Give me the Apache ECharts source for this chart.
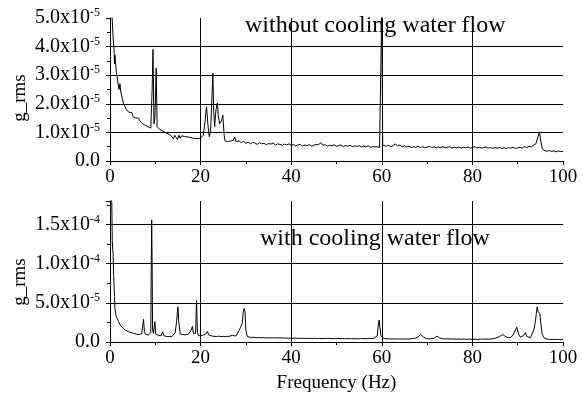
<!DOCTYPE html>
<html>
<head>
<meta charset="utf-8">
<script src="https://cdn.jsdelivr.net/npm/echarts@6/dist/echarts.min.js"></script>
<style>
  html, body { margin: 0; padding: 0; background: #fff; }
  #chart { width: 583px; height: 400px; }
</style>
</head>
<body>
<div id="chart"></div>
<script>
// 频谱数据，单位 1e-5 g_rms
const topFreq = [
  0.2, 0.4, 0.7, 0.9, 1.0, 1.1, 1.2, 1.4, 1.7, 2.0, 2.2, 2.4, 2.7, 3.0, 3.3, 3.6, 3.9, 4.2, 4.5, 4.8,
  5.1, 5.4, 5.7, 6.0, 6.3, 6.6, 6.9, 7.2, 7.5, 7.8, 8.1, 8.4, 8.7, 9.0, 9.3, 9.5, 9.7, 9.9, 10.2, 10.4,
  10.7, 11.0, 11.3, 11.6, 11.9, 12.2, 12.5, 12.8, 13.1, 13.4, 13.7, 14.0, 14.3, 14.6, 14.9, 15.2, 15.5, 15.8, 16.1, 16.4,
  16.7, 17.0, 17.3, 17.6, 17.9, 18.2, 18.5, 18.8, 19.1, 19.4, 19.7, 20.0, 20.3, 20.6, 21.0, 21.3, 21.6, 21.9, 22.2, 22.5,
  22.7, 22.9, 23.1, 23.4, 23.7, 23.9, 24.2, 24.6, 24.9, 25.2, 25.4, 25.7, 26.0, 26.3, 26.6, 26.9, 27.2, 27.5, 27.8, 28.1,
  28.5, 29.0, 29.5, 30.0, 30.5, 31.0, 31.5, 32.0, 32.5, 33.0, 33.5, 34.0, 34.5, 35.0, 35.5, 36.0, 36.5, 37.0, 37.5, 38.0,
  38.5, 39.0, 39.5, 40.0, 40.5, 41.0, 41.5, 42.0, 42.5, 43.0, 43.5, 44.0, 44.5, 45.0, 45.5, 46.0, 46.5, 47.0, 47.5, 48.0,
  48.5, 49.0, 49.5, 50.0, 50.5, 51.0, 51.5, 52.0, 52.5, 53.0, 53.5, 54.0, 54.5, 55.0, 55.5, 56.0, 56.5, 57.0, 57.5, 58.0,
  58.5, 59.0, 59.5, 59.8, 60.0, 60.2, 60.5, 61.0, 61.5, 62.0, 62.5, 63.0, 63.5, 64.0, 64.5, 65.0, 65.5, 66.0, 66.5, 67.0,
  67.5, 68.0, 68.5, 69.0, 69.5, 70.0, 70.5, 71.0, 71.5, 72.0, 72.5, 73.0, 73.5, 74.0, 74.5, 75.0, 75.5, 76.0, 76.5, 77.0,
  77.5, 78.0, 78.5, 79.0, 79.5, 80.0, 80.5, 81.0, 81.5, 82.0, 82.5, 83.0, 83.5, 84.0, 84.5, 85.0, 85.5, 86.0, 86.5, 87.0,
  87.5, 88.0, 88.5, 89.0, 89.5, 90.0, 90.5, 91.0, 91.5, 92.0, 92.5, 93.0, 93.5, 94.0, 94.5, 94.8, 95.1, 95.4, 95.7, 96.0,
  96.5, 97.0, 97.5, 98.0, 98.5, 99.0, 99.5, 100.0
]
const topVal = [
  6.0, 5.2, 4.3, 3.9, 3.4, 3.7, 3.5, 3.1, 2.8, 2.5, 2.7, 2.4, 2.2, 2.0, 1.9, 1.8, 1.85, 1.7, 1.65, 1.7,
  1.55, 1.6, 1.5, 1.45, 1.5, 1.4, 1.45, 1.3, 1.35, 1.25, 1.3, 1.2, 1.25, 1.15, 2.5, 3.9, 1.3, 1.5, 3.25, 1.2,
  1.15, 1.1, 1.15, 1.05, 1.1, 1.0, 1.05, 0.95, 1.0, 0.9, 0.95, 0.78, 0.9, 0.85, 0.75, 0.9, 0.8, 0.88, 0.82, 0.86,
  0.8, 0.84, 0.79, 0.83, 0.77, 0.8, 0.76, 0.79, 0.74, 0.78, 0.73, 0.8, 0.76, 0.9, 1.4, 1.9, 1.3, 0.85, 1.0, 2.2,
  3.07, 1.7, 1.2, 1.8, 2.03, 1.6, 1.3, 1.4, 1.6, 0.9, 0.7, 0.75, 0.68, 0.72, 0.7, 0.65, 0.72, 0.84, 0.68, 0.66,
  0.7, 0.64, 0.69, 0.62, 0.66, 0.6, 0.65, 0.63, 0.58, 0.64, 0.6, 0.62, 0.57, 0.61, 0.59, 0.63, 0.56, 0.6, 0.58, 0.55,
  0.59, 0.56, 0.6, 0.55, 0.57, 0.53, 0.56, 0.58, 0.52, 0.56, 0.54, 0.57, 0.52, 0.55, 0.58, 0.56, 0.64, 0.55, 0.57, 0.52,
  0.55, 0.53, 0.57, 0.51, 0.54, 0.56, 0.5, 0.54, 0.52, 0.55, 0.5, 0.53, 0.51, 0.54, 0.49, 0.52, 0.5, 0.53, 0.48, 0.51,
  0.49, 0.5, 0.47, 0.5, 5.3, 0.55, 0.6, 0.52, 0.55, 0.5, 0.54, 0.6, 0.52, 0.56, 0.5, 0.53, 0.49, 0.52, 0.47, 0.5,
  0.48, 0.52, 0.47, 0.5, 0.46, 0.49, 0.51, 0.47, 0.5, 0.46, 0.49, 0.47, 0.5, 0.46, 0.48, 0.5, 0.45, 0.48, 0.46, 0.49,
  0.45, 0.48, 0.46, 0.49, 0.45, 0.47, 0.5, 0.46, 0.48, 0.45, 0.47, 0.49, 0.45, 0.47, 0.44, 0.47, 0.45, 0.48, 0.44, 0.46,
  0.44, 0.47, 0.45, 0.48, 0.44, 0.46, 0.48, 0.45, 0.5, 0.47, 0.52, 0.49, 0.55, 0.6, 0.85, 1.02, 0.7, 0.45, 0.38, 0.36,
  0.34, 0.37, 0.33, 0.36, 0.32, 0.35, 0.33, 0.34
]

const botFreq = [
  0.2, 0.4, 0.5, 0.6, 0.7, 0.8, 1.0, 1.1, 1.3, 1.6, 1.9, 2.2, 2.5, 2.8, 3.1, 3.4, 3.7, 4.0, 4.3, 4.6,
  4.9, 5.2, 5.5, 5.8, 6.1, 6.4, 6.7, 7.0, 7.2, 7.4, 7.6, 7.9, 8.2, 8.5, 8.8, 9.0, 9.1, 9.2, 9.3, 9.4,
  9.6, 9.9, 10.1, 10.4, 10.7, 11.0, 11.3, 11.6, 11.9, 12.2, 12.5, 12.8, 13.1, 13.4, 13.7, 14.0, 14.4, 14.7, 15.0, 15.2,
  15.5, 15.8, 16.1, 16.4, 16.7, 17.0, 17.3, 17.6, 17.9, 18.2, 18.4, 18.7, 18.9, 19.1, 19.3, 19.6, 20.0, 20.4, 20.8, 21.1,
  21.5, 21.8, 22.2, 22.6, 23.0, 23.5, 24.0, 24.5, 25.0, 25.5, 26.0, 26.5, 27.0, 27.4, 27.8, 28.2, 28.6, 28.9, 29.2, 29.4,
  29.6, 29.8, 30.0, 30.3, 30.8, 31.3, 31.8, 32.3, 32.8, 33.3, 33.8, 34.3, 34.8, 35.3, 35.8, 36.3, 36.8, 37.3, 37.8, 38.3,
  38.8, 39.3, 39.8, 40.3, 40.8, 41.3, 41.8, 42.3, 42.8, 43.3, 43.8, 44.3, 44.8, 45.3, 45.8, 46.3, 46.8, 47.3, 47.8, 48.3,
  48.8, 49.3, 49.8, 50.3, 50.8, 51.3, 51.8, 52.3, 52.8, 53.3, 53.8, 54.3, 54.8, 55.3, 55.8, 56.3, 56.8, 57.3, 57.8, 58.3,
  58.7, 59.0, 59.2, 59.4, 59.6, 59.8, 60.1, 60.5, 61.0, 61.5, 62.0, 62.5, 63.0, 63.5, 64.0, 64.5, 65.0, 65.5, 66.0, 66.5,
  67.0, 67.5, 68.0, 68.6, 69.2, 69.8, 70.4, 71.0, 71.6, 72.2, 72.8, 73.4, 74.0, 74.6, 75.2, 75.8, 76.4, 77.0, 77.6, 78.2,
  78.8, 79.4, 80.0, 80.6, 81.2, 81.8, 82.4, 83.0, 83.6, 84.2, 84.8, 85.4, 86.0, 86.7, 87.3, 87.9, 88.5, 89.0, 89.4, 89.8,
  90.2, 90.6, 91.0, 91.4, 91.7, 92.0, 92.4, 92.8, 93.2, 93.6, 93.9, 94.1, 94.3, 94.5, 94.7, 94.9, 95.1, 95.4, 95.8, 96.3,
  96.8, 97.3, 97.8, 98.3, 98.8, 99.3, 99.8, 100.0
]
const botVal = [
  18.5, 17.8, 13.0, 11.8, 11.2, 8.5, 5.8, 4.2, 3.4, 3.0, 2.6, 2.2, 2.0, 1.8, 1.75, 1.5, 1.55, 1.35, 1.4, 1.2,
  1.3, 1.1, 1.15, 1.0, 1.1, 0.95, 1.0, 1.05, 2.0, 2.9, 1.3, 0.95, 1.0, 0.9, 1.0, 1.2, 9.0, 15.6, 10.0, 1.5,
  1.1, 2.6, 1.0, 0.9, 0.85, 0.9, 0.8, 1.3, 0.8, 0.75, 0.7, 0.8, 0.7, 0.75, 0.72, 0.85, 1.2, 2.6, 4.5, 2.5,
  1.0, 0.9, 0.95, 0.85, 0.9, 0.95, 1.0, 1.2, 1.5, 2.0, 1.1, 1.0, 1.1, 5.3, 1.2, 0.8, 0.9, 0.85, 0.9, 1.0,
  1.35, 0.9, 0.8, 0.75, 0.8, 0.7, 0.75, 0.7, 0.72, 0.68, 0.7, 0.75, 0.85, 0.7, 0.75, 1.0, 1.6, 2.0, 2.4, 3.8,
  4.3, 3.9, 1.5, 0.7, 0.62, 0.58, 0.6, 0.55, 0.58, 0.54, 0.57, 0.52, 0.55, 0.5, 0.54, 0.52, 0.55, 0.5, 0.53, 0.5,
  0.52, 0.48, 0.5, 0.47, 0.5, 0.46, 0.49, 0.45, 0.48, 0.46, 0.44, 0.47, 0.45, 0.48, 0.44, 0.46, 0.43, 0.46, 0.44, 0.47,
  0.43, 0.45, 0.42, 0.46, 0.43, 0.45, 0.41, 0.44, 0.42, 0.45, 0.41, 0.43, 0.4, 0.44, 0.42, 0.45, 0.41, 0.46, 0.43, 0.5,
  0.55, 0.8, 2.0, 2.8, 1.8, 0.8, 0.55, 0.45, 0.4, 0.43, 0.38, 0.41, 0.37, 0.4, 0.36, 0.39, 0.37, 0.4, 0.38, 0.42,
  0.45, 0.5, 0.65, 0.95, 0.65, 0.45, 0.4, 0.43, 0.5, 0.75, 0.5, 0.42, 0.38, 0.41, 0.37, 0.4, 0.36, 0.39, 0.35, 0.38,
  0.34, 0.37, 0.33, 0.36, 0.34, 0.37, 0.35, 0.38, 0.36, 0.4, 0.45, 0.55, 0.7, 0.95, 0.7, 0.55, 0.6, 0.9, 1.4, 1.9,
  1.0, 0.6, 0.55, 0.9, 1.2, 0.7, 0.5, 0.55, 0.8, 1.6, 2.6, 3.6, 4.5, 3.9, 3.7, 3.6, 2.4, 1.0, 0.55, 0.4,
  0.35, 0.32, 0.34, 0.31, 0.33, 0.3, 0.32, 0.31
]

const titles = ['without cooling water flow', 'with cooling water flow']

const FONT = 'Liberation Serif'
const chart = echarts.init(document.getElementById('chart'))

// y轴标签：5.0x10^-5 这种格式
function sciLabel (v) {
  if (v === 0) return '{b|0.0}'
  const real = v * 1e-5
  const exp = Math.floor(Math.log10(real) + 1e-9)
  const mant = real / Math.pow(10, exp)
  return '{b|' + mant.toFixed(1) + 'x10}{s|' + exp + '}'
}

function xAxisOpt (gridIndex) {
  return {
    type: 'value',
    gridIndex: gridIndex,
    min: 0,
    max: 100,
    interval: 20,
    axisLine: { lineStyle: { color: '#000', width: 1 } },
    axisTick: { length: 4, lineStyle: { color: '#000' } },
    minorTick: { show: true, splitNumber: 2, length: 3, lineStyle: { color: '#000' } },
    splitLine: { show: true, showMinLine: false, showMaxLine: false, lineStyle: { color: '#000', width: 1 } },
    axisLabel: { color: '#000', fontFamily: FONT, fontSize: 19, margin: 7 }
  }
}

function yAxisOpt (gridIndex, max, interval) {
  return {
    type: 'value',
    gridIndex: gridIndex,
    min: 0,
    max: max,
    interval: interval,
    axisLine: { show: true, lineStyle: { color: '#000', width: 1 } },
    axisTick: { show: true, length: 4, lineStyle: { color: '#000' } },
    minorTick: { show: true, splitNumber: 2, length: 3, lineStyle: { color: '#000' } },
    splitLine: { show: true, showMinLine: false, showMaxLine: false, lineStyle: { color: '#000', width: 1 } },
    axisLabel: {
      margin: 10,
      showMaxLabel: max % interval === 0,
      formatter: sciLabel,
      rich: {
        b: { color: '#000', fontFamily: FONT, fontSize: 20, lineHeight: 22 },
        s: { color: '#000', fontFamily: FONT, fontSize: 12, lineHeight: 12, padding: [0, 0, 10, 0] }
      }
    }
  }
}

const option = {
  animation: false,
  backgroundColor: '#fff',
  title: [
    {
      text: titles[0], left: 245, top: 14, padding: 0,
      textStyle: { fontFamily: FONT, fontWeight: 'normal', fontSize: 24, color: '#000' }
    },
    {
      text: titles[1], left: 260, top: 227, padding: 0,
      textStyle: { fontFamily: FONT, fontWeight: 'normal', fontSize: 24, color: '#000' }
    }
  ],
  grid: [
    { left: 110, right: 20, top: 18, height: 143 },
    { left: 110, right: 20, top: 201, height: 141 }
  ],
  xAxis: [
    xAxisOpt(0),
    Object.assign(xAxisOpt(1), {
      name: 'Frequency (Hz)',
      nameLocation: 'middle',
      nameGap: 32,
      nameTextStyle: { color: '#000', fontFamily: FONT, fontSize: 19 }
    })
  ],
  yAxis: [
    yAxisOpt(0, 5, 1),
    yAxisOpt(1, 18, 5)
  ],
  graphic: [
    {
      type: 'text', x: 20, y: 98, rotation: Math.PI / 2,
      style: { text: 'g_rms', fontFamily: FONT, fontSize: 19, fill: '#000', align: 'center', verticalAlign: 'middle' }
    },
    {
      type: 'text', x: 20, y: 282, rotation: Math.PI / 2,
      style: { text: 'g_rms', fontFamily: FONT, fontSize: 19, fill: '#000', align: 'center', verticalAlign: 'middle' }
    }
  ],
  series: [
    {
      type: 'line',
      xAxisIndex: 0,
      yAxisIndex: 0,
      data: topFreq.map((f, i) => [f, topVal[i]]),
      showSymbol: false,
      clip: true,
      lineStyle: { color: '#000', width: 1 }
    },
    {
      type: 'line',
      xAxisIndex: 1,
      yAxisIndex: 1,
      data: botFreq.map((f, i) => [f, botVal[i]]),
      showSymbol: false,
      clip: true,
      lineStyle: { color: '#000', width: 1 }
    }
  ]
}

chart.setOption(option)
</script>
</body>
</html>
